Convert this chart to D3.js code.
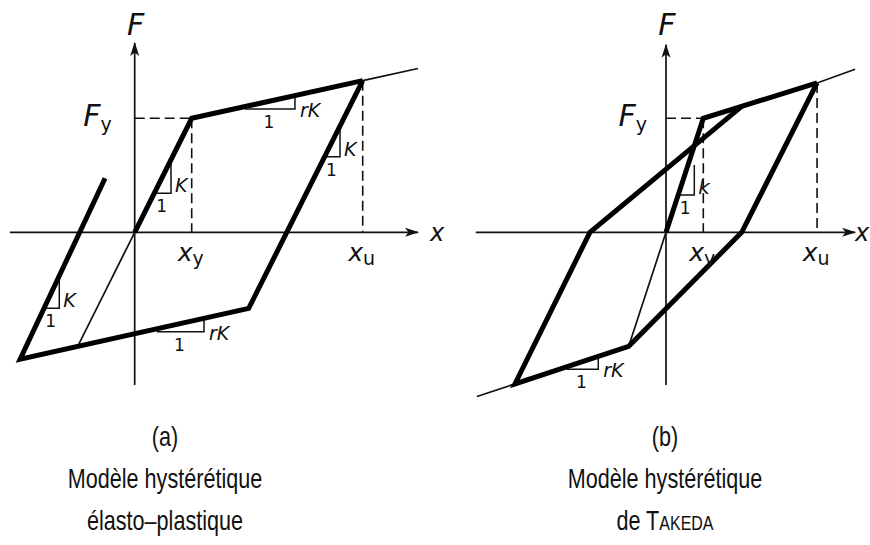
<!DOCTYPE html>
<html>
<head>
<meta charset="utf-8">
<title>Modèles hystérétiques</title>
<script src="https://d3js.org/d3.v7.min.js"></script>
<style>
  body { margin: 0; background: #fff; }
  .lbl { font-family: "DejaVu Sans", sans-serif; fill: #111; }
  .cap { font-family: "Liberation Sans", Arial, sans-serif; fill: #111; }
</style>
</head>
<body>
<script>
// all points in units of x_y (displacement) and F_y (force)

// (a) elasto-plastic
var elastoLoading = [[0, 0], [1, 1], [4, 1.33]];
var elastoCycle = [[4, 1.33], [2, -0.667], [-2.01, -1.114], [-0.52, 0.474]];
var elastoThin = [[[-1, -1], [0, 0]], [[4, 1.33], [4.97, 1.437]]];
var elastoXy = 1, elastoXu = 4, elastoFy = 1, elastoFu = 1.33;
var elastoSlopes = [
  [[0.342, 0.342], [0.637, 0.342], [0.637, 0.637]],
  [[-1.591, -0.667], [-1.323, -0.667], [-1.323, -0.381]],
  [[3.333, 0.663], [3.602, 0.663], [3.602, 0.932]],
  [[1.935, 1.082], [2.812, 1.082], [2.812, 1.199]],
  [[0.386, -0.872], [1.216, -0.872], [1.216, -0.754]]
];
var elastoSlopeText = ["K", "K", "K", "rK", "rK"];

// (b) Takeda
var takedaLoading = [[0, 0], [1, 1], [4.05, 1.31]];
var takedaCycle = [[4.05, 1.31], [2.03, 0], [-1, -1], [-4.05, -1.33], [-2.04, 0], [2.03, 1.105]];
var takedaThin = [[[-1, -1], [0, 0]], [[4.05, 1.31], [5.07, 1.43]], [[-4.05, -1.33], [-5.07, -1.44]]];
var takedaXy = 1, takedaXu = 4.05, takedaFy = 1, takedaFu = 1.31;
var takedaSlopes = [
  [[0.327, 0.327], [0.759, 0.327], [0.759, 0.59]],
  [[-2.664, -1.202], [-1.816, -1.202], [-1.816, -1.088]]
];
var takedaSlopeText = ["k", "rK"];

var width = 870, height = 545;

var svg = d3.select("body").append("svg")
  .attr("width", width)
  .attr("height", height);

// arrow head for the axes
svg.append("defs").append("marker")
  .attr("id", "arrow")
  .attr("viewBox", "0 -5 14 10")
  .attr("refX", 13).attr("refY", 0)
  .attr("markerWidth", 14).attr("markerHeight", 10)
  .attr("markerUnits", "userSpaceOnUse")
  .attr("orient", "auto")
  .append("path")
  .attr("d", "M0,-4.5L14,0L0,4.5L3.5,0Z")
  .attr("fill", "#111");

var y = d3.scaleLinear().domain([0, 1]).range([232.3, 118.3]);
var line = d3.line();

function panel(x, o) {
  var g = svg.append("g");
  var pt = function(d) { return [x(d[0]), y(d[1])]; };

  // axes
  g.append("line")
    .attr("x1", x(o.xAxis[0])).attr("x2", x(o.xAxis[1]))
    .attr("y1", y(0)).attr("y2", y(0))
    .attr("stroke", "#111").attr("stroke-width", 1.7)
    .attr("marker-end", "url(#arrow)");
  g.append("line")
    .attr("x1", x(0)).attr("x2", x(0))
    .attr("y1", y(o.fAxis[0])).attr("y2", y(o.fAxis[1]))
    .attr("stroke", "#111").attr("stroke-width", 1.7)
    .attr("marker-end", "url(#arrow)");

  // dashed guides
  var dashes = [
    [[0, o.Fy], [o.Xy, o.Fy]],
    [[o.Xy, o.Fy], [o.Xy, 0]],
    [[o.Xu, o.Fu], [o.Xu, 0]]
  ];
  g.selectAll(".dash").data(dashes).enter().append("path")
    .attr("d", function(d) { return line(d.map(pt)); })
    .attr("fill", "none").attr("stroke", "#111")
    .attr("stroke-width", 1.6).attr("stroke-dasharray", "10,5");

  // thin lines
  g.selectAll(".thin").data(o.thin).enter().append("path")
    .attr("d", function(d) { return line(d.map(pt)); })
    .attr("fill", "none").attr("stroke", "#111").attr("stroke-width", 1.7);

  // slope triangles
  g.selectAll(".tri").data(o.slopes).enter().append("path")
    .attr("d", function(d) { return line(d.map(pt)); })
    .attr("fill", "none").attr("stroke", "#111").attr("stroke-width", 1.5);

  // thick curves
  [o.loading, o.cycle].forEach(function(c) {
    g.append("path")
      .attr("d", line(c.map(pt)))
      .attr("fill", "none").attr("stroke", "#000")
      .attr("stroke-width", 5).attr("stroke-linejoin", "miter");
  });

  // slope labels
  o.slopes.forEach(function(t, i) {
    var c = pt(t[1]), s = pt(t[0]);
    var txt = o.slopeText[i];
    g.append("text").attr("class", "lbl")
      .attr("x", c[0] + (txt == "rK" ? 5 : 4))
      .attr("y", c[1] + (txt == "rK" ? 8 : -1))
      .attr("font-size", txt == "k" ? 20 : 19)
      .attr("font-style", "italic")
      .text(txt);
    g.append("text").attr("class", "lbl")
      .attr("x", (s[0] + c[0]) / 2 - 1)
      .attr("y", c[1] + 19)
      .attr("font-size", 17)
      .attr("text-anchor", "middle")
      .text("1");
  });

  // axis labels
  g.append("text").attr("class", "lbl")
    .attr("x", x(0) + 1).attr("y", 35)
    .attr("text-anchor", "middle")
    .attr("font-size", 30).attr("font-style", "italic")
    .text("F");
  g.append("text").attr("class", "lbl")
    .attr("x", x(o.xAxis[1]) + o.xLabelGap).attr("y", y(0) + 9)
    .attr("font-size", 24).attr("font-style", "italic")
    .text("x");

  var fy = g.append("text").attr("class", "lbl")
    .attr("x", x(0) - o.fyGap).attr("y", y(o.Fy) + 7.5)
    .attr("text-anchor", "end");
  fy.append("tspan").attr("font-size", 30).attr("font-style", "italic").text("F");
  fy.append("tspan").attr("font-size", 19).attr("dy", 5).text("y");

  [[o.Xy, "y"], [o.Xu, "u"]].forEach(function(d) {
    var t = g.append("text").attr("class", "lbl")
      .attr("x", x(d[0]) - 1).attr("y", y(0) + 29)
      .attr("text-anchor", "middle");
    t.append("tspan").attr("font-size", 25).attr("font-style", "italic").text("x");
    t.append("tspan").attr("font-size", 19).attr("dy", 4).text(d[1]);
  });

  // caption (the original lettering is narrow, so squeeze it horizontally)
  var cap = svg.append("g").attr("transform", "translate(" + o.capX + ",0) scale(0.8,1)");
  o.caption.forEach(function(l, i) {
    var t = cap.append("text").attr("class", "cap")
      .attr("x", 0).attr("y", 446 + i * 42)
      .attr("text-anchor", "middle");
    l.forEach(function(p) {
      t.append("tspan").attr("font-size", p[1]).text(p[0]);
    });
  });
}

panel(d3.scaleLinear().domain([0, 1]).range([134.7, 191.7]), {
  loading: elastoLoading, cycle: elastoCycle, thin: elastoThin,
  slopes: elastoSlopes, slopeText: elastoSlopeText,
  Xy: elastoXy, Xu: elastoXu, Fy: elastoFy, Fu: elastoFu,
  xAxis: [-2.19, 4.97], fAxis: [-1.34, 1.66], xLabelGap: 12, fyGap: 23,
  capX: 165,
  caption: [[["(a)", 27]], [["Modèle hystérétique", 27]], [["élasto–plastique", 27]]]
});

panel(d3.scaleLinear().domain([0, 1]).range([666, 703.3]), {
  loading: takedaLoading, cycle: takedaCycle, thin: takedaThin,
  slopes: takedaSlopes, slopeText: takedaSlopeText,
  Xy: takedaXy, Xu: takedaXu, Fy: takedaFy, Fu: takedaFu,
  xAxis: [-5.1, 5.07], fAxis: [-1.34, 1.645], xLabelGap: 0, fyGap: 19,
  capX: 665,
  caption: [[["(b)", 27]], [["Modèle hystérétique", 27]], [["de T", 27], ["AKEDA", 20]]]
});
</script>
</body>
</html>
